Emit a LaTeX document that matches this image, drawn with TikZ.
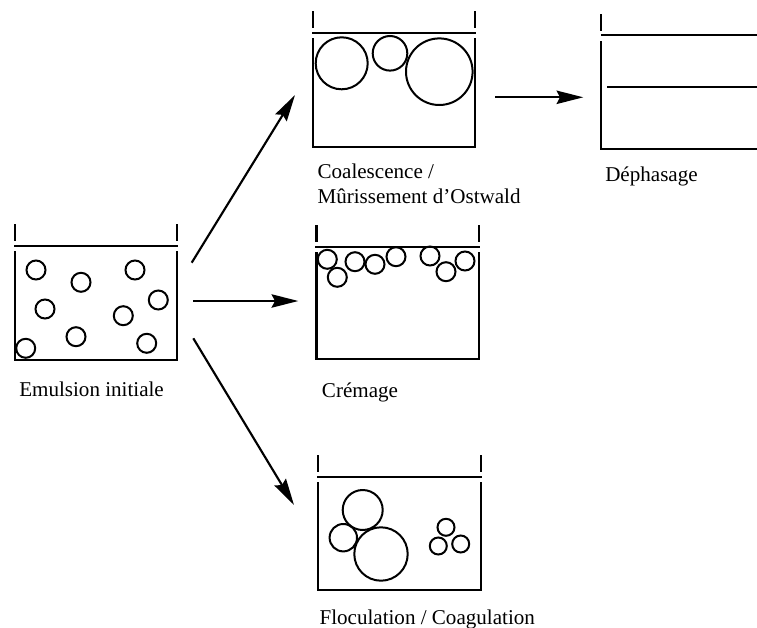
\documentclass[tikz,border=0pt]{standalone}
\usepackage{fontspec}
\setmainfont{Liberation Serif}
\usetikzlibrary{arrows.meta}
\tikzset{
  wall/.style={line width=1.7pt, line cap=rect},
  drop/.style={line width=1.5pt},
  flow/.style={line width=1.6pt, -{Stealth[length=20pt, width=10pt, inset=2.5pt]}},
  lbl/.style={anchor=base west, inner sep=0pt, font=\fontsize{15.8}{19}\selectfont, align=left}
}
\newcommand\beakerbox[4]{% left, right, line y, bottom y
  \draw[wall] (#1,#3-21) -- (#1,#3-6);
  \draw[wall] (#2,#3-21) -- (#2,#3-6);
  \draw[wall] (#1,#3) -- (#2,#3);
  \draw[wall] (#1,#3+6) -- (#1,#4) -- (#2,#4) -- (#2,#3+6);
}
\begin{document}
\begin{tikzpicture}[x=0.75pt, y=-0.75pt]
\clip (0,0) rectangle (757,628);
% Emulsion initiale
\beakerbox{15}{177}{246}{360}
\foreach \cx/\cy in {36/270, 81/282.3, 135/270, 45/309, 158.3/300, 123.3/315.7, 76/336.7, 25.7/348.3, 146.7/343.3}
  \draw[drop] (\cx,\cy) circle (9.5);
\node[lbl] (lemul) at (19,396.7) {Emulsion initiale};
% Coalescence
\beakerbox{312.7}{475}{33.3}{146.7}
\draw[drop] (341.7,63.3) circle (26);
\draw[drop] (390,53.3) circle (17.3);
\draw[drop] (439.3,71.7) circle (33.3);
\node[lbl] (lcoal) at (317.3,178.3) {Coalescence /};
\node[lbl] (lmuri) at (317.3,203.3) {Mûrissement d’Ostwald};
% Dephasage
\draw[wall] (600.7,15) -- (600.7,30);
\draw[wall] (602,35) -- (780,35);
\draw[wall] (600.7,41.7) -- (600.7,149) -- (780,149);
\draw[wall] (607.7,86.7) -- (780,86.7);
\node[lbl] (ldeph) at (605,181.5) {Déphasage};
% Cremage
\beakerbox{316.5}{479}{246.7}{359.3}
\foreach \cx/\cy in {327.3/259.3, 337.3/277.3, 355/261.7, 375/264.3, 396/256.7, 430/256, 446/271.7, 465/261}
  \draw[drop] (\cx,\cy) circle (9.5);
\node[lbl] (lcrem) at (321.7,397) {Crémage};
% Floculation
\beakerbox{318.3}{480.7}{476.7}{590}
\draw[drop] (362.7,510) circle (20);
\draw[drop] (343.3,537.7) circle (13.7);
\draw[drop] (381,554) circle (26.7);
\draw[drop] (446,527.3) circle (8.5);
\draw[drop] (438.3,546) circle (8.5);
\draw[drop] (460.7,544) circle (8.5);
\node[lbl] (lfloc) at (319.3,624.3) {Floculation / Coagulation};
% arrows
\coordinate (aus) at (191.7,262.7);
\coordinate (aue) at (295,95);
\coordinate (ams) at (193.3,301);
\coordinate (ame) at (298.3,301);
\coordinate (als) at (193.3,338.3);
\coordinate (ale) at (294,505);
\coordinate (ars) at (495,97.3);
\coordinate (are) at (583.3,97.3);
\draw[flow] (aus) -- (aue);
\draw[flow] (ams) -- (ame);
\draw[flow] (als) -- (ale);
\draw[flow] (ars) -- (are);
\end{tikzpicture}
\end{document}
